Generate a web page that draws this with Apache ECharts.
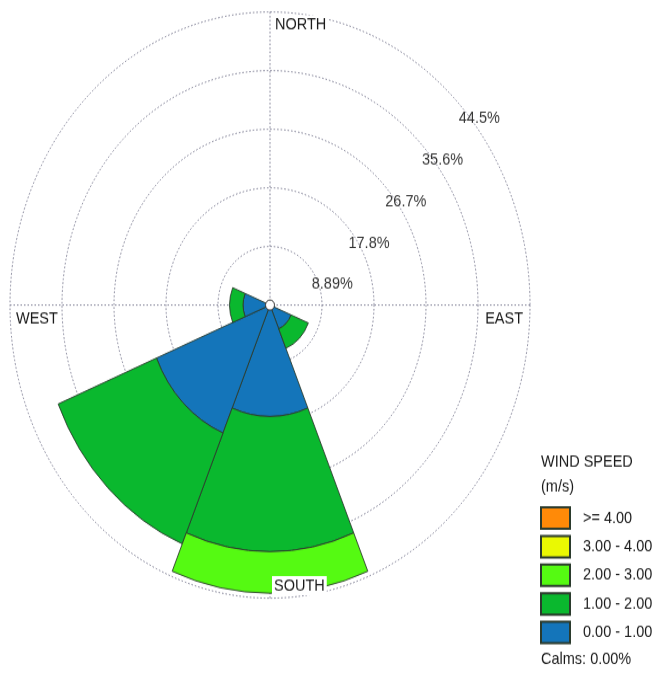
<!DOCTYPE html>
<html>
<head>
<meta charset="utf-8">
<script src="https://cdn.jsdelivr.net/npm/echarts@6/dist/echarts.min.js"></script>
<style>
  html, body { margin: 0; padding: 0; background: #fff; overflow: hidden; }
  #frame { width: 652px; height: 673px; overflow: hidden; position: relative; }
  /* the rose is laid out on a 652x597 canvas, then stretched to the frame height */
  #chart { width: 652px; height: 597px; transform: scaleY(1.1273); transform-origin: 0 0; }
</style>
</head>
<body>
<div id="frame"><div id="chart"></div></div>
<script>
// Wind directions (blowing from), clockwise from north
const directions = ['N', 'NE', 'E', 'SE', 'S', 'SW', 'W', 'NW'];

// Frequency (%) of each wind speed class per direction
const speed0to1 = [0, 0, 0, 3.9, 16.9, 21.0, 4.6, 0];
const speed1to2 = [0, 0, 0, 3.2, 20.5, 18.2, 2.3, 0];
const speed2to3 = [0, 0, 0, 0, 6.3, 0, 0, 0];
const speed3to4 = [0, 0, 0, 0, 0, 0, 0, 0];
const speed4up  = [0, 0, 0, 0, 0, 0, 0, 0];

// Speed class names (m/s)
const classNames = ['0.00 - 1.00', '1.00 - 2.00', '2.00 - 3.00', '3.00 - 4.00', '>= 4.00'];

// Frequency rings
const ringValues = [8.89, 17.78, 26.67, 35.56, 44.45];
const ringLabels = ['8.89%', '17.8%', '26.7%', '35.6%', '44.5%'];
const ringStep = 8.89;

const calmsText = 'Calms: 0.00%';
const compassNames = ['NORTH', 'EAST', 'SOUTH', 'WEST'];

// Layout
const cx = 270, cy = 270.6, R = 260;
const FONT = "'Liberation Sans', Arial, sans-serif";
const FS = 14.5;
const TEXT = '#1a1a1a';
const GRID = '#7c7c92';
const colors = ['#1475ba', '#0ab82e', '#55fa12', '#eaf902', '#ff8a08'];
const edge = '#2b3b2d';

const chart = echarts.init(document.getElementById('chart'), null, { renderer: 'canvas' });

// empty classes are left out of a petal so they add no extra outline
const speedSeries = [speed0to1, speed1to2, speed2to3, speed3to4, speed4up].map((vals, i) => ({
  name: classNames[i],
  type: 'bar',
  coordinateSystem: 'polar',
  polarIndex: 0,
  stack: 'speed',
  data: vals.map(v => (v > 0 ? v : '-')),
  barCategoryGap: '0%',
  barGap: '0%',
  silent: true,
  itemStyle: { color: colors[i], borderColor: edge, borderWidth: 0.9 },
  z: 3
}));

const ringLabelSeries = {
  type: 'scatter',
  coordinateSystem: 'polar',
  polarIndex: 1,
  data: ringValues.map(v => [v, 45]),
  symbolSize: 0.1,
  itemStyle: { color: 'transparent' },
  silent: true,
  z: 4,
  label: {
    show: true,
    position: [5, 11],
    formatter: p => ringLabels[p.dataIndex],
    fontFamily: FONT,
    fontSize: FS,
    color: '#000'
  }
};

const textEl = (text, x, y, align, bg) => ({
  type: 'text',
  z: 100,
  silent: true,
  style: Object.assign({
    text: text,
    x: x,
    y: y,
    align: align,
    verticalAlign: 'top',
    font: FS + 'px ' + FONT,
    fill: TEXT
  }, bg ? { backgroundColor: '#fff', padding: [1, 2] } : {})
});

const option = {
  animation: false,
  backgroundColor: '#fff',
  title: {
    text: 'WIND SPEED\n(m/s)',
    left: 541,
    top: 399,
    padding: 0,
    textStyle: { fontFamily: FONT, fontSize: FS, fontWeight: 'normal', color: TEXT, lineHeight: 22 }
  },
  legend: {
    orient: 'vertical',
    left: 540,
    top: 449,
    padding: 0,
    itemWidth: 29,
    itemHeight: 19,
    itemGap: 4.4,
    icon: 'rect',
    selectedMode: false,
    data: classNames.slice().reverse(),
    textStyle: { fontFamily: FONT, fontSize: FS, color: TEXT, lineHeight: 19, padding: [0, 0, 0, 8] }
  },
  polar: [
    { center: [cx, cy], radius: R },
    { center: [cx, cy], radius: R }
  ],
  angleAxis: [
    {
      polarIndex: 0,
      type: 'category',
      data: directions,
      startAngle: 90 + 180 / directions.length,
      clockwise: true,
      axisLine: { show: false },
      axisTick: { show: false },
      axisLabel: { show: false },
      splitLine: { show: false }
    },
    {
      polarIndex: 1,
      type: 'value',
      min: 0,
      max: 360,
      interval: 90,
      startAngle: 90,
      clockwise: true,
      axisLine: { show: false },
      axisTick: { show: false },
      axisLabel: { show: false },
      splitLine: { show: true, lineStyle: { color: GRID, width: 1, type: [1.5, 2] } }
    }
  ],
  radiusAxis: [
    {
      polarIndex: 0,
      type: 'value',
      min: 0,
      max: ringValues[ringValues.length - 1],
      interval: ringStep,
      axisLine: { show: false },
      axisTick: { show: false },
      axisLabel: { show: false },
      splitLine: { show: true, lineStyle: { color: GRID, width: 1, type: [1.5, 2] } }
    },
    {
      polarIndex: 1,
      type: 'value',
      min: 0,
      max: ringValues[ringValues.length - 1],
      interval: ringStep,
      axisLine: { show: false },
      axisTick: { show: false },
      axisLabel: { show: false },
      splitLine: { show: false }
    }
  ],
  series: speedSeries.concat([ringLabelSeries]),
  graphic: [
    textEl(compassNames[0], cx + 3, cy - R + 3, 'left', true),
    textEl(compassNames[1], cx + R - 7, cy + 5, 'right', false),
    textEl(compassNames[2], cx + 2, cy + R - 19.5, 'left', true),
    textEl(compassNames[3], cx - R + 6, cy + 5, 'left', false),
    textEl(calmsText, 541, 577.5, 'left', false),
    {
      type: 'circle',
      z: 100,
      silent: true,
      shape: { cx: cx, cy: cy, r: 4.5 },
      style: { fill: '#fff', stroke: '#333', lineWidth: 1 }
    }
  ]
};

chart.setOption(option);
</script>
</body>
</html>
